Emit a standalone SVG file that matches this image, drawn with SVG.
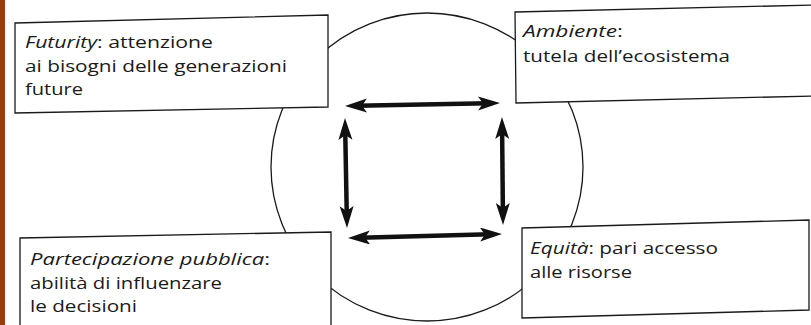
<svg xmlns="http://www.w3.org/2000/svg" width="811" height="325" viewBox="0 0 811 325">
  <style>
    .box { fill: #ffffff; stroke: #1a1a1a; stroke-width: 1.3; }
    .ring { fill: none; stroke: #1a1a1a; stroke-width: 1.3; }
    .t { font-family: "Open Sans", "Noto Sans", "DejaVu Sans", sans-serif; font-size: 16.8px; fill: #1a1a1a; }
    .i { font-style: italic; }
    .arrow { stroke: #111111; stroke-width: 4.5; fill: none; marker-start: url(#head); marker-end: url(#head); }
  </style>
  <defs>
    <marker id="head" markerUnits="userSpaceOnUse" markerWidth="24" markerHeight="16" refX="10" refY="7" orient="auto-start-reverse">
      <path d="M0,0 L22,7 L0,14 L5,7 Z" fill="#111111"/>
    </marker>
  </defs>
  <rect x="0" y="0" width="811" height="325" fill="#ffffff"/>
  <rect x="0" y="0" width="5" height="325" fill="#983a12"/>

  <ellipse id="ring" class="ring" cx="427" cy="167" rx="156" ry="154"/>

  <g id="futurity">
    <polygon class="box" points="15,23 328,15 328,107 15,113"/>
    <text class="t" x="25" y="48" textLength="188" lengthAdjust="spacingAndGlyphs"><tspan class="i">Futurity</tspan>: attenzione</text>
    <text class="t" x="25" y="71.5" textLength="262" lengthAdjust="spacingAndGlyphs">ai bisogni delle generazioni</text>
    <text class="t" x="25" y="95" textLength="58" lengthAdjust="spacingAndGlyphs">future</text>
  </g>

  <g id="ambiente">
    <polygon class="box" points="515,12 815,5 815,96 516,103"/>
    <text class="t" x="523" y="37" textLength="100" lengthAdjust="spacingAndGlyphs"><tspan class="i">Ambiente</tspan>:</text>
    <text class="t" x="523" y="62" textLength="207" lengthAdjust="spacingAndGlyphs">tutela dell’ecosistema</text>
  </g>

  <g id="partecipazione">
    <polygon class="box" points="20,238 331,232 331,330 20,330"/>
    <text class="t" x="30" y="265" textLength="240" lengthAdjust="spacingAndGlyphs"><tspan class="i">Partecipazione pubblica</tspan>:</text>
    <text class="t" x="30" y="288.5" textLength="192" lengthAdjust="spacingAndGlyphs">abilità di influenzare</text>
    <text class="t" x="30" y="312" textLength="107" lengthAdjust="spacingAndGlyphs">le decisioni</text>
  </g>

  <g id="equita">
    <polygon class="box" points="522,228 809,220 809,310 522,318"/>
    <text class="t" x="530" y="254" textLength="188" lengthAdjust="spacingAndGlyphs"><tspan class="i">Equità</tspan>: pari accesso</text>
    <text class="t" x="530" y="278" textLength="102" lengthAdjust="spacingAndGlyphs">alle risorse</text>
  </g>

  <g id="connectors">
    <line class="arrow" x1="357" y1="105.8" x2="488" y2="103.2"/>
    <line class="arrow" x1="345.2" y1="130" x2="346.8" y2="216"/>
    <line class="arrow" x1="360" y1="237.7" x2="490" y2="234.3"/>
    <line class="arrow" x1="502.1" y1="129" x2="502.9" y2="213"/>
  </g>
</svg>
